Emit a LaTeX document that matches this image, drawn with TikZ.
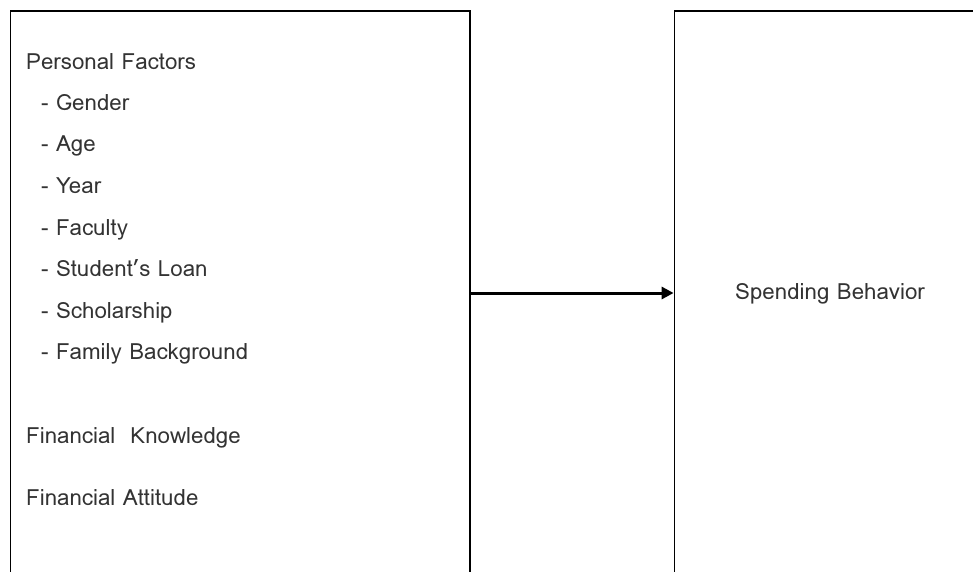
\documentclass[tikz,border=0pt]{standalone}
\usepackage{fontspec}
\setmainfont{Loma}
\usetikzlibrary{arrows.meta}
\begin{document}
\begin{tikzpicture}[x=1pt,y=-1pt,
  box/.style={draw,line width=1.8pt,rectangle,minimum height=564pt,inner sep=0pt},
  txt/.style={anchor=base west,inner sep=0pt,font=\fontsize{22.3}{25}\selectfont,text=black!80},
  arr/.style={line width=3pt,-{Triangle[length=12pt,width=12pt]}}]
\useasboundingbox (0,0) rectangle (973,572);
\node[box,minimum width=459.5pt] (left) at (240.25,293) {};
\node[box,minimum width=330pt] (right) at (839.5,293) {};
\draw[arr] (left.east) -- (right.west);
\node[txt] (t1) at (26,70) {Personal Factors};
\node[txt] (t2) at (41,111) {- Gender};
\node[txt] (t3) at (41,152) {- Age};
\node[txt] (t4) at (41,193) {- Year};
\node[txt] (t5) at (41,235) {- Faculty};
\node[txt] (t6) at (41,276) {- Student’s Loan};
\node[txt] (t7) at (41,318) {- Scholarship};
\node[txt] (t8) at (41,359) {- Family Background};
\node[txt] (t9) at (26,443) {Financial\ \ Knowledge};
\node[txt] (t10) at (26,505) {Financial Attitude};
\node[txt] (sb) at (735,299) {Spending Behavior};
\end{tikzpicture}
\end{document}
